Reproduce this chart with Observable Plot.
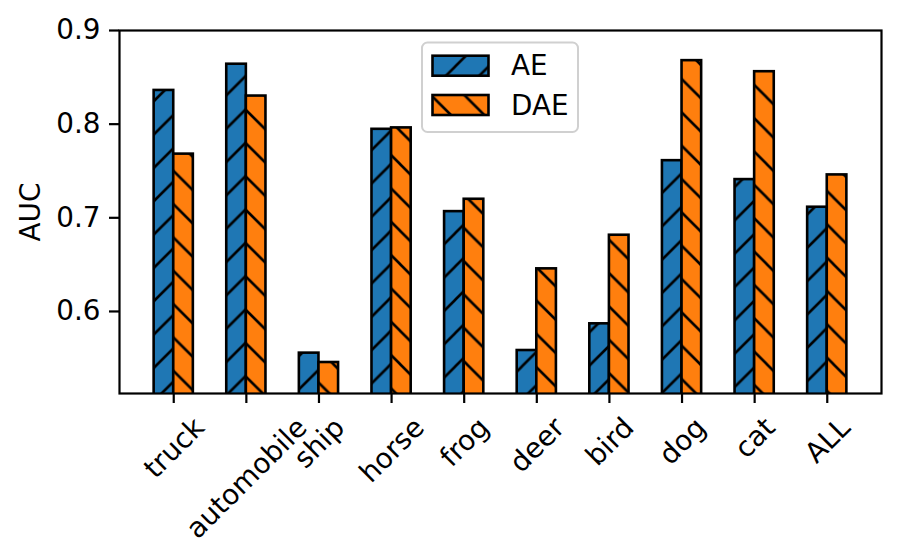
<!DOCTYPE html>
<html>
<head>
<meta charset="utf-8">
<script src="https://cdn.jsdelivr.net/npm/d3@7"></script>
<script src="https://cdn.jsdelivr.net/npm/@observablehq/plot@0.6"></script>
<style>
  html, body { margin: 0; padding: 0; background: #fff; }
  #chart svg { font-family: "DejaVu Sans", sans-serif; color: #000; }
</style>
</head>
<body>
<div id="chart"></div>
<script>
// ---- data ----
const categories = ["truck", "automobile", "ship", "horse", "frog", "deer", "bird", "dog", "cat", "ALL"];
const aeValues  = [0.836, 0.864, 0.5555, 0.7945, 0.7066, 0.5583, 0.5868, 0.761, 0.7408, 0.7113];
const daeValues = [0.768, 0.830, 0.5455, 0.796, 0.7198, 0.6455, 0.6814, 0.8678, 0.856, 0.7458];
const seriesNames = ["AE", "DAE"];
const yTicks = [0.6, 0.7, 0.8, 0.9];

// ---- styling constants ----
const barWidth = 0.27;
const FS = 27.8;
const colors = {AE: "#1f77b4", DAE: "#ff7f0e"};

const rows = [];
categories.forEach((c, i) => {
  rows.push({cat: c, i, series: "AE", value: aeValues[i]});
  rows.push({cat: c, i, series: "DAE", value: daeValues[i]});
});
const idx = categories.map((_, i) => i);
const xPad = (categories.length - 1 + 2 * barWidth) * 0.05 + barWidth;

const svg = Plot.plot({
  width: 900,
  height: 559,
  marginLeft: 119,
  marginRight: 19,
  marginTop: 30,
  marginBottom: 166,
  style: {fontFamily: "DejaVu Sans, sans-serif", fontSize: FS + "px", color: "#000", background: "#fff"},
  x: {type: "linear", domain: [-xPad, categories.length - 1 + xPad]},
  y: {domain: [0.5124, 0.9]},
  marks: [
    Plot.rectY(rows, {
      x1: d => d.series === "AE" ? d.i - barWidth : d.i,
      x2: d => d.series === "AE" ? d.i : d.i + barWidth,
      y: "value",
      fill: d => d.series,
      stroke: "black",
      strokeWidth: 2.6,
      clip: true,
      className: "bars"
    }),
    Plot.frame({stroke: "black", strokeWidth: 2.2}),
    Plot.axisY({ticks: yTicks, tickFormat: ".1f", tickSize: 10, tickPadding: 9, strokeWidth: 2.2, label: null, fontSize: FS}),
    Plot.axisX({ticks: idx, tickSize: 10, tickFormat: () => "", strokeWidth: 2.2, label: null}),
    Plot.text(categories, {x: (d, i) => i, frameAnchor: "bottom", rotate: -45, textAnchor: "middle", fontSize: FS, fill: "black", className: "xlab"}),
    Plot.text(["AUC"], {frameAnchor: "left", dx: -88, rotate: -90, textAnchor: "middle", lineAnchor: "middle", fontSize: FS, fill: "black"})
  ],
  color: {domain: seriesNames, range: seriesNames.map(s => `url(#hatch${s})`)}
});

document.getElementById("chart").append(svg);

const NS = "http://www.w3.org/2000/svg";
const P = 33.333;
const defs = document.createElementNS(NS, "defs");
defs.innerHTML = `
  <pattern id="hatchAE" patternUnits="userSpaceOnUse" width="${P}" height="${P}" patternTransform="translate(21.7,0)">
    <rect width="${P}" height="${P}" fill="${colors.AE}"/>
    <path d="M0,${P} L${P},0 M-5,5 L5,-5 M${P-5},${P+5} L${P+5},${P-5}" stroke="black" stroke-width="2.6"/>
  </pattern>
  <pattern id="hatchDAE" patternUnits="userSpaceOnUse" width="${P}" height="${P}" patternTransform="translate(0,30.7)">
    <rect width="${P}" height="${P}" fill="${colors.DAE}"/>
    <path d="M0,0 L${P},${P} M-5,${P-5} L5,${P+5} M${P-5},-5 L${P+5},5" stroke="black" stroke-width="2.6"/>
  </pattern>`;
svg.insertBefore(defs, svg.firstChild);

// position rotated x labels like matplotlib (bbox centered under tick)
const xs = svg.scale("x");
const labelTop = 393 + 19;
svg.querySelectorAll("g.xlab text").forEach((t, i) => {
  const L = t.getComputedTextLength();
  const h = FS * 1.0;
  const cy = labelTop + (L + h) * 0.7071 / 2;
  const cx = xs.apply(i);
  t.removeAttribute("x"); t.removeAttribute("y");
  t.setAttribute("transform", `translate(${cx},${cy}) rotate(-45)`);
  t.setAttribute("text-anchor", "middle");
  t.setAttribute("dy", "0.35em");
});

// legend
const lg = document.createElementNS(NS, "g");
lg.setAttribute("text-anchor", "start");
lg.innerHTML = `
  <rect x="422" y="42.5" width="156" height="89.5" rx="5.5" fill="white" fill-opacity="0.8" stroke="#d0d0d0" stroke-width="2"/>
  <rect x="432.5" y="55.7" width="56" height="20" fill="url(#hatchAE)" stroke="black" stroke-width="2.6"/>
  <rect x="432.5" y="95" width="56" height="20" fill="url(#hatchDAE)" stroke="black" stroke-width="2.6"/>
  <text x="511" y="65.7" dy="0.35em" text-anchor="start" font-size="${FS}" fill="black">${seriesNames[0]}</text>
  <text x="511" y="105" dy="0.35em" text-anchor="start" font-size="${FS}" fill="black">${seriesNames[1]}</text>`;
svg.append(lg);
</script>
</body>
</html>
